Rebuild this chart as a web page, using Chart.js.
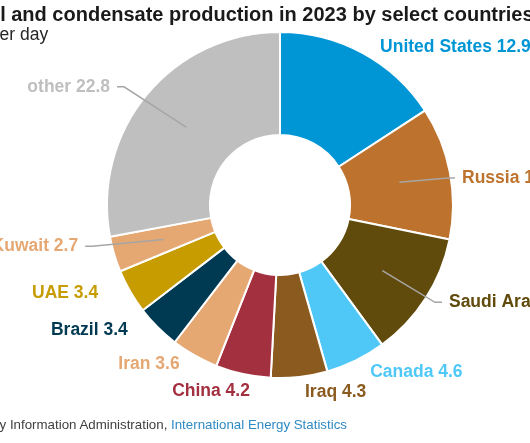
<!DOCTYPE html>
<html>
<head>
<meta charset="utf-8">
<script src="https://cdn.jsdelivr.net/npm/chart.js@4/dist/chart.umd.min.js"></script>
<style>
  html, body { margin: 0; padding: 0; background: #fff; }
  body { width: 530px; height: 443px; overflow: hidden; position: relative; font-family: "Liberation Sans", Arial, sans-serif; }
  #chart { position: absolute; left: 0; top: 0; }
  .txt { position: absolute; white-space: nowrap; line-height: 1; }
  #title { top: 4px; font-size: 20px; font-weight: bold; color: #1a1a1a; }
  #subtitle { top: 26px; font-size: 17.5px; color: #262626; }
  #source { top: 418px; font-size: 13.3px; color: #404040; }
  #source a { color: #2f8ac4; text-decoration: none; }
</style>
</head>
<body>
<canvas id="chart" width="530" height="443"></canvas>
<div class="txt" id="title"><span class="cut">Crude oi</span>l and condensate production in 2023 by select countries</div>
<div class="txt" id="subtitle"><span class="cut">million barrels p</span>er day</div>
<div class="txt" id="source"><span class="cut">Source: U.S. Energ</span>y Information Administration, <a>International Energy Statistics</a></div>
<script>
// crude oil + condensate, million barrels per day
const countries = ['United States', 'Russia', 'Saudi Arabia', 'Canada', 'Iraq', 'China', 'Iran', 'Brazil', 'UAE', 'Kuwait', 'other'];
const production = [12.9, 10.1, 9.6, 4.6, 4.3, 4.2, 3.6, 3.4, 3.4, 2.7, 22.8];
const sliceColors = ['#0096d6', '#bd732e', '#614b0c', '#4fc8f8', '#8a5a1f', '#a3303f', '#e5a873', '#003a52', '#c79c00', '#e5a873', '#bfbfbf'];

// label placement: extra px beyond the ring, turn in degrees from slice middle
const labelGap = [14, 11, 22, 17, 16, 16, 15, 24, 29, 33, 34];
const labelTurn = [3.9, 2.4, -2.7, -2.3, -1.2, -3.2, 2.7, 5.6, 4.2, 5, -4.9];
const hasLeader = [false, true, true, false, false, false, false, false, false, true, true];

// crop the header / footer texts like the original
document.querySelectorAll('.txt').forEach(el => {
    const cut = el.querySelector('.cut');
    el.style.left = (-cut.offsetWidth) + 'px';
});

const sliceLabels = {
    id: 'sliceLabels',
    afterDatasetsDraw(chart) {
        const ctx = chart.ctx;
        const meta = chart.getDatasetMeta(0);
        ctx.save();
        ctx.font = 'bold 17.5px "Liberation Sans", Arial, sans-serif';
        ctx.textBaseline = 'middle';
        meta.data.forEach((arc, i) => {
            const p = arc.getProps(['x', 'y', 'startAngle', 'endAngle', 'innerRadius', 'outerRadius'], true);
            const mid = (p.startAngle + p.endAngle) / 2;
            const a = mid + labelTurn[i] * Math.PI / 180;
            const r = p.outerRadius + labelGap[i];
            const lx = p.x + r * Math.cos(a);
            const ly = p.y + r * Math.sin(a);
            const right = lx >= p.x;
            const dir = right ? 1 : -1;
            if (hasLeader[i]) {
                const rm = (p.innerRadius + p.outerRadius) / 2;
                ctx.strokeStyle = '#a6a6a6';
                ctx.lineWidth = 1.5;
                ctx.beginPath();
                ctx.moveTo(p.x + rm * Math.cos(mid), p.y + rm * Math.sin(mid));
                ctx.lineTo(lx - dir * 14, ly);
                ctx.lineTo(lx - dir * 7, ly);
                ctx.stroke();
            }
            ctx.fillStyle = sliceColors[i];
            ctx.textAlign = right ? 'left' : 'right';
            ctx.fillText(countries[i] + ' ' + production[i].toFixed(1), lx, ly);
        });
        ctx.restore();
    }
};

new Chart(document.getElementById('chart').getContext('2d'), {
    type: 'doughnut',
    data: {
        labels: countries,
        datasets: [{
            data: production,
            backgroundColor: sliceColors,
            borderColor: '#ffffff',
            borderWidth: 2
        }]
    },
    options: {
        responsive: false,
        animation: false,
        devicePixelRatio: 1,
        cutout: '40.5%',
        layout: { padding: { left: 106, right: 76, top: 31, bottom: 64 } },
        plugins: {
            legend: { display: false },
            tooltip: { enabled: false }
        }
    },
    plugins: [sliceLabels]
});
</script>
</body>
</html>
